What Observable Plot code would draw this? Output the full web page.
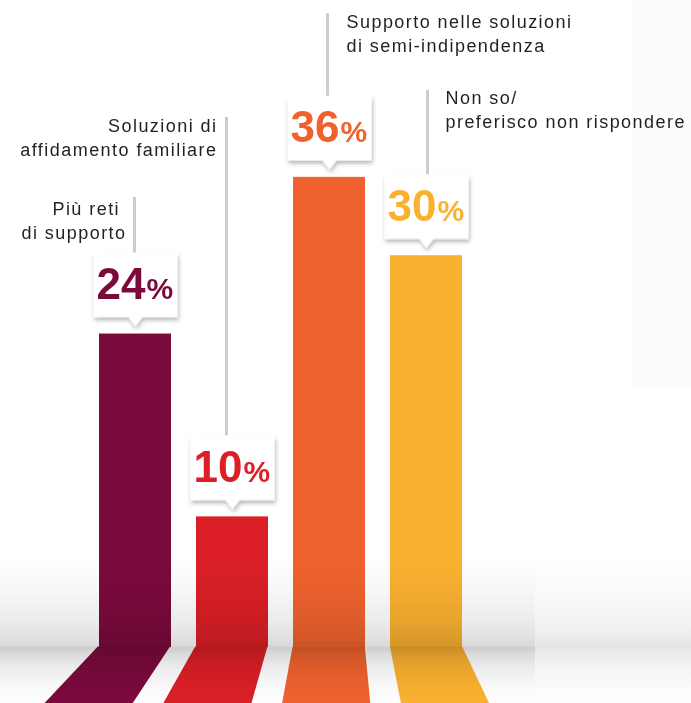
<!DOCTYPE html>
<html>
<head>
<meta charset="utf-8">
<script src="https://cdn.jsdelivr.net/npm/d3@7"></script>
<script src="https://cdn.jsdelivr.net/npm/@observablehq/plot@0.6"></script>
<style>
  html, body { margin: 0; padding: 0; background: #ffffff; }
  #chart svg { display: block; }
</style>
</head>
<body>
<div id="chart"></div>
<script>
// ---------- data ----------
const categories = [
  "Più reti di supporto",
  "Soluzioni di affidamento familiare",
  "Supporto nelle soluzioni di semi-indipendenza",
  "Non so/preferisco non rispondere"
];
const labelLines = [
  "Più reti\u00a0\ndi supporto",
  "Soluzioni di\naffidamento familiare",
  "Supporto nelle soluzioni\ndi semi-indipendenza",
  "Non so/\npreferisco non rispondere"
];
const values = [24, 10, 36, 30];
const colors = ["#7b0a3c", "#dc1f26", "#f0622d", "#fbb130"];

// ---------- layout ----------
const W = 691, H = 703;
const FLOOR_Y = 647, PX_PER_PT = 13.06;
const yDomain = [0, 40];
const yRange = [FLOOR_Y, FLOOR_Y - PX_PER_PT * 40];
const xRange = [97.8, 462.2];
const leaderTopPx = [197, 117, 13, 90];
const labelBaselinePx = [238, 155, 51, 127];
const leaderDx = [-1, -6, -2, 1];
const labelDx = [-9, -15, 17, 19];
const labelAnchor = ["end", "end", "start", "start"];
const VANISH = [340, 392];

const yPx = d3.scaleLinear().domain(yDomain).range(yRange);
const data = categories.map((c, i) => ({cat: c, value: values[i], label: labelLines[i]}));

const calloutSymbol = {
  draw(ctx) {
    ctx.moveTo(-42, -81);
    ctx.lineTo(42, -81);
    ctx.lineTo(42, -17);
    ctx.lineTo(7, -17);
    ctx.lineTo(0, -8);
    ctx.lineTo(-7, -17);
    ctx.lineTo(-42, -17);
    ctx.closePath();
  }
};

const marks = [
  Plot.barY(data, {x: "cat", y: "value", fill: "cat"})
];
data.forEach((d, i) => {
  marks.push(Plot.ruleX([d], {
    x: "cat", y1: () => yPx.invert(leaderTopPx[i]), y2: "value",
    insetBottom: 81, dx: leaderDx[i], stroke: "#d3cbc6", strokeWidth: 3
  }));
});
marks.push(Plot.dot(data, {x: "cat", y: "value", symbol: calloutSymbol, r: 5, fill: "white", stroke: "none"}));
marks.push(Plot.text(data, {
  x: "cat", y: "value", text: d => String(d.value), fill: "cat",
  textAnchor: "end", lineAnchor: "bottom", dx: 10, dy: -35,
  fontSize: 44, fontWeight: "bold", fontFamily: "Liberation Sans"
}));
marks.push(Plot.text(data, {
  x: "cat", y: "value", text: () => "%", fill: "cat",
  textAnchor: "start", lineAnchor: "bottom", dx: 11, dy: -35,
  fontSize: 30, fontWeight: "bold", fontFamily: "Liberation Sans"
}));
data.forEach((d, i) => {
  marks.push(Plot.text([d], {
    x: "cat", y: () => yPx.invert(labelBaselinePx[i]), text: "label",
    textAnchor: labelAnchor[i], lineAnchor: "bottom", lineHeight: 1.3,
    dx: labelDx[i], fontSize: 18, fill: "#231f20", fontFamily: "Liberation Sans"
  }));
});

const plot = Plot.plot({
  width: W, height: H, margin: 0,
  style: {background: "transparent", fontFamily: "Liberation Sans", overflow: "visible"},
  x: {type: "band", domain: categories, range: xRange, paddingInner: 0.258, paddingOuter: 0, axis: null},
  y: {type: "linear", domain: yDomain, range: yRange, axis: null},
  color: {domain: categories, range: colors},
  marks
});

// ---------- decoration: shadows, floor perspective and shading ----------
const xb = d3.scaleBand().domain(categories).range(xRange).paddingInner(0.258).paddingOuter(0);
const ns = "http://www.w3.org/2000/svg";

const defs = d3.select(plot.insertBefore(document.createElementNS(ns, "defs"), plot.firstChild));
const filt = defs.append("filter").attr("id", "calloutShadow")
  .attr("x", "-30%").attr("y", "-30%").attr("width", "160%").attr("height", "160%");
filt.append("feDropShadow").attr("dx", 1).attr("dy", 3).attr("stdDeviation", 2.2)
  .attr("flood-color", "#000000").attr("flood-opacity", 0.3);

function gradient(id, stops) {
  const g = defs.append("linearGradient").attr("id", id)
    .attr("gradientUnits", "userSpaceOnUse").attr("x1", 0).attr("x2", 0).attr("y1", 560).attr("y2", 703);
  stops.forEach(([y, c]) => g.append("stop").attr("offset", (y - 560) / 143).attr("stop-color", c));
}
gradient("floorL", [[560, "#ffffff"], [590, "#f7f7f7"], [620, "#ececec"], [640, "#dfdfdf"], [646.5, "#d7d7d7"],
  [647.5, "#cdcdcd"], [655, "#dcdcdc"], [668, "#ececec"], [685, "#f8f8f8"], [703, "#ffffff"]]);
gradient("floorR", [[560, "#ffffff"], [595, "#fafafa"], [630, "#f0f0f0"], [646.5, "#e5e5e5"],
  [647.5, "#e6e6e6"], [665, "#f3f3f3"], [690, "#fcfcfc"], [703, "#ffffff"]]);

const bg = document.createElementNS(ns, "g");
defs.node().after(bg);
d3.select(bg).append("rect").attr("x", 0).attr("y", 0).attr("width", W).attr("height", H).attr("fill", "#ffffff");
d3.select(bg).append("rect").attr("x", 632).attr("y", 0).attr("width", W - 632).attr("height", 387).attr("fill", "#fbfcfe");

const dotG = plot.querySelector('g[aria-label="dot"]');
if (dotG) dotG.setAttribute("filter", "url(#calloutShadow)");
const textGs = plot.querySelectorAll('g[aria-label="text"]');
textGs.forEach((g, i) => { if (i >= 2) g.setAttribute("letter-spacing", "1.45"); });

const barG = plot.querySelector('g[aria-label="bar"]');
const floorG = document.createElementNS(ns, "g");
barG.after(floorG);
const k = y => (y - VANISH[1]) / (FLOOR_Y - VANISH[1]);
const px = (x, y) => VANISH[0] + (x - VANISH[0]) * k(y);
categories.forEach((c, i) => {
  const xl = xb(c), xr = xl + xb.bandwidth();
  const y0 = FLOOR_Y - 0.5, y1 = H + 4;
  d3.select(floorG).append("path")
    .attr("d", `M${xl},${y0}L${xr},${y0}L${px(xr, y1)},${y1}L${px(xl, y1)},${y1}Z`)
    .attr("fill", colors[i]);
});
const shadeG = document.createElementNS(ns, "g");
shadeG.setAttribute("style", "mix-blend-mode: multiply");
floorG.after(shadeG);
d3.select(shadeG).append("rect").attr("x", 0).attr("y", 560).attr("width", 535).attr("height", 143).attr("fill", "url(#floorL)");
d3.select(shadeG).append("rect").attr("x", 535).attr("y", 560).attr("width", W - 535).attr("height", 143).attr("fill", "url(#floorR)");

document.getElementById("chart").appendChild(plot);
</script>
</body>
</html>
